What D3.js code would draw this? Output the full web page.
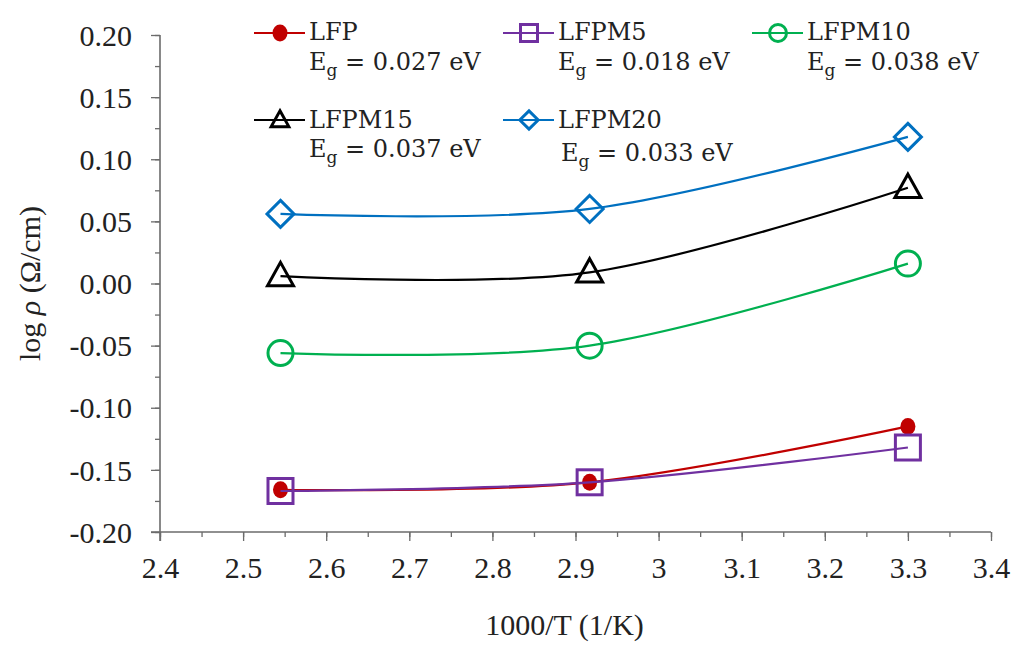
<!DOCTYPE html>
<html>
<head>
<meta charset="utf-8">
<script src="https://cdn.jsdelivr.net/npm/d3@7"></script>
<style>
  body { margin: 0; background: #fff; }
  svg { display: block; }
</style>
</head>
<body>
<svg id="chart" width="1014" height="646"></svg>
<script>
// Inverse temperature (1000/T, 1/K) for the three measurement temperatures
const invT = [2.545, 2.917, 3.300];

// log ρ (Ω/cm) for each composition
const lfp    = [-0.166, -0.160, -0.115];
const lfpm5  = [-0.167, -0.160, -0.132];
const lfpm10 = [-0.056, -0.050, 0.016];
const lfpm15 = [0.006, 0.009, 0.077];
const lfpm20 = [0.056, 0.060, 0.118];

const seriesNames = ["LFP", "LFPM5", "LFPM10", "LFPM15", "LFPM20"];
const gapValues   = ["0.027", "0.018", "0.038", "0.037", "0.033"];
const seriesColors = ["#C00000", "#7030A0", "#00B050", "#000000", "#0070C0"];
const seriesMarkers = ["dot", "square", "circle", "triangle", "diamond"];

const xTickValues = [2.4, 2.5, 2.6, 2.7, 2.8, 2.9, 3.0, 3.1, 3.2, 3.3, 3.4];
const xTickLabels = ["2.4", "2.5", "2.6", "2.7", "2.8", "2.9", "3", "3.1", "3.2", "3.3", "3.4"];
const yTickValues = [-0.20, -0.15, -0.10, -0.05, 0.00, 0.05, 0.10, 0.15, 0.20];
const yTickLabels = ["-0.20", "-0.15", "-0.10", "-0.05", "0.00", "0.05", "0.10", "0.15", "0.20"];

const seriesValues = [lfp, lfpm5, lfpm10, lfpm15, lfpm20];

const svg = d3.select("#chart");
const axisColor = "#6b6b6b";
const serif = "'Liberation Serif', 'Times New Roman', serif";
const legendFont = "'DejaVu Serif', serif";

const x = d3.scaleLinear().domain([2.4, 3.4]).range([160, 991]);
const y = d3.scaleLinear().domain([-0.2, 0.2]).range([532, 35]);

// ---- axes ----
const xMinor = d3.range(0, 21).map(i => 2.4 + i * 0.05);
const yMinor = d3.range(0, 17).map(i => -0.2 + i * 0.025);

const xAxisG = svg.append("g").attr("transform", `translate(0,${y(-0.2)})`);
xAxisG.call(d3.axisBottom(x).tickValues(xMinor).tickSize(5).tickFormat(""));
xAxisG.append("g").call(d3.axisBottom(x).tickValues(xTickValues).tickSize(9)
  .tickFormat((d, i) => xTickLabels[i]));

const yAxisG = svg.append("g").attr("transform", `translate(${x(2.4)},0)`);
yAxisG.call(d3.axisLeft(y).tickValues(yMinor).tickSize(5).tickFormat(""));
yAxisG.append("g").call(d3.axisLeft(y).tickValues(yTickValues).tickSize(9)
  .tickFormat((d, i) => yTickLabels[i]));

svg.selectAll(".domain").attr("stroke", axisColor).attr("stroke-width", 1.6);
svg.selectAll(".tick line").attr("stroke", axisColor).attr("stroke-width", 1.3);
// extend the axis lines a little past the corner
xAxisG.select(".domain").attr("d", `M${x(2.4) - 9},0H${x(3.4)}`);
yAxisG.select(".domain").attr("d", `M0,${y(0.2)}V${y(-0.2) + 9}`);
xAxisG.selectAll("g g .domain").remove();
yAxisG.selectAll("g g .domain").remove();

xAxisG.selectAll(".tick text")
  .attr("font-family", serif).attr("font-size", 30).attr("fill", "#222")
  .attr("y", 46).attr("dy", 0);
yAxisG.selectAll(".tick text")
  .attr("font-family", serif).attr("font-size", 30).attr("fill", "#222")
  .attr("x", -28).attr("dy", "0.34em");

// axis titles
svg.append("text")
  .attr("x", (x(2.4) + x(3.4)) / 2 - 11).attr("y", 635)
  .attr("text-anchor", "middle")
  .attr("font-family", serif).attr("font-size", 30).attr("fill", "#222")
  .text("1000/T (1/K)");

const yTitle = svg.append("text")
  .attr("transform", `translate(40,${(y(-0.2) + y(0.2)) / 2}) rotate(-90)`)
  .attr("text-anchor", "middle")
  .attr("font-family", serif).attr("font-size", 30).attr("fill", "#222");
yTitle.append("tspan").text("log ");
yTitle.append("tspan").attr("font-style", "italic").text("ρ");
yTitle.append("tspan").text(" (Ω/cm)");

// ---- markers ----
function drawMarker(g, kind, color, cx, cy, s) {
  if (kind === "dot") {
    g.append("ellipse").attr("cx", cx).attr("cy", cy)
      .attr("rx", 7.5).attr("ry", 8.5).attr("fill", color);
  } else if (kind === "square") {
    const h = 12.5 * s;
    g.append("rect").attr("x", cx - h).attr("y", cy - h)
      .attr("width", 2 * h).attr("height", 2 * h)
      .attr("fill", "none").attr("stroke", color).attr("stroke-width", 3);
  } else if (kind === "circle") {
    g.append("circle").attr("cx", cx).attr("cy", cy).attr("r", 12.5 * s)
      .attr("fill", "none").attr("stroke", color).attr("stroke-width", 3);
  } else if (kind === "triangle") {
    const h = 13 * s;
    g.append("path")
      .attr("d", `M${cx},${cy - h * 1.05}L${cx + h},${cy + h * 0.75}L${cx - h},${cy + h * 0.75}Z`)
      .attr("fill", "none").attr("stroke", color).attr("stroke-width", 3)
      .attr("stroke-linejoin", "miter");
  } else if (kind === "diamond") {
    const h = 13.5 * s;
    g.append("path")
      .attr("d", `M${cx},${cy - h}L${cx + h},${cy}L${cx},${cy + h}L${cx - h},${cy}Z`)
      .attr("fill", "none").attr("stroke", color).attr("stroke-width", 3);
  }
}

// ---- series ----
const line = d3.line()
  .x(d => x(d[0])).y(d => y(d[1]))
  .curve(d3.curveCardinal.tension(0));

const plot = svg.append("g");
seriesValues.forEach((vals, i) => {
  const pts = invT.map((t, j) => [t, vals[j]]);
  const g = plot.append("g");
  g.append("path").datum(pts).attr("d", line)
    .attr("fill", "none").attr("stroke", seriesColors[i]).attr("stroke-width", 2.2);
  pts.forEach(p => drawMarker(g, seriesMarkers[i], seriesColors[i], x(p[0]), y(p[1]), 1));
});

// ---- legend ----
const legendPos = [
  { lx: 254, ly: 33, ty: 40, ex: 309, ey: 70 },
  { lx: 503, ly: 33, ty: 40, ex: 558, ey: 70 },
  { lx: 752, ly: 33, ty: 40, ex: 807, ey: 70 },
  { lx: 254, ly: 120, ty: 128, ex: 309, ey: 157 },
  { lx: 503, ly: 120, ty: 128, ex: 561, ey: 161 }
];
const legend = svg.append("g");
seriesNames.forEach((name, i) => {
  const p = legendPos[i];
  const g = legend.append("g");
  g.append("line").attr("x1", p.lx).attr("x2", p.lx + 51)
    .attr("y1", p.ly).attr("y2", p.ly)
    .attr("stroke", seriesColors[i]).attr("stroke-width", 2.2);
  drawMarker(g, seriesMarkers[i], seriesColors[i], p.lx + 26, p.ly, 0.68);
  g.append("text").attr("x", p.lx + 55).attr("y", p.ty)
    .attr("font-family", legendFont).attr("font-size", 24).attr("fill", "#222")
    .text(name);
  const t = g.append("text").attr("x", p.ex).attr("y", p.ey)
    .attr("font-family", legendFont).attr("font-size", 24).attr("fill", "#222");
  t.append("tspan").text("E");
  t.append("tspan").attr("font-size", 17).attr("dy", 6).text("g");
  t.append("tspan").attr("dy", -6).text(" = " + gapValues[i] + " eV");
});
</script>
</body>
</html>
